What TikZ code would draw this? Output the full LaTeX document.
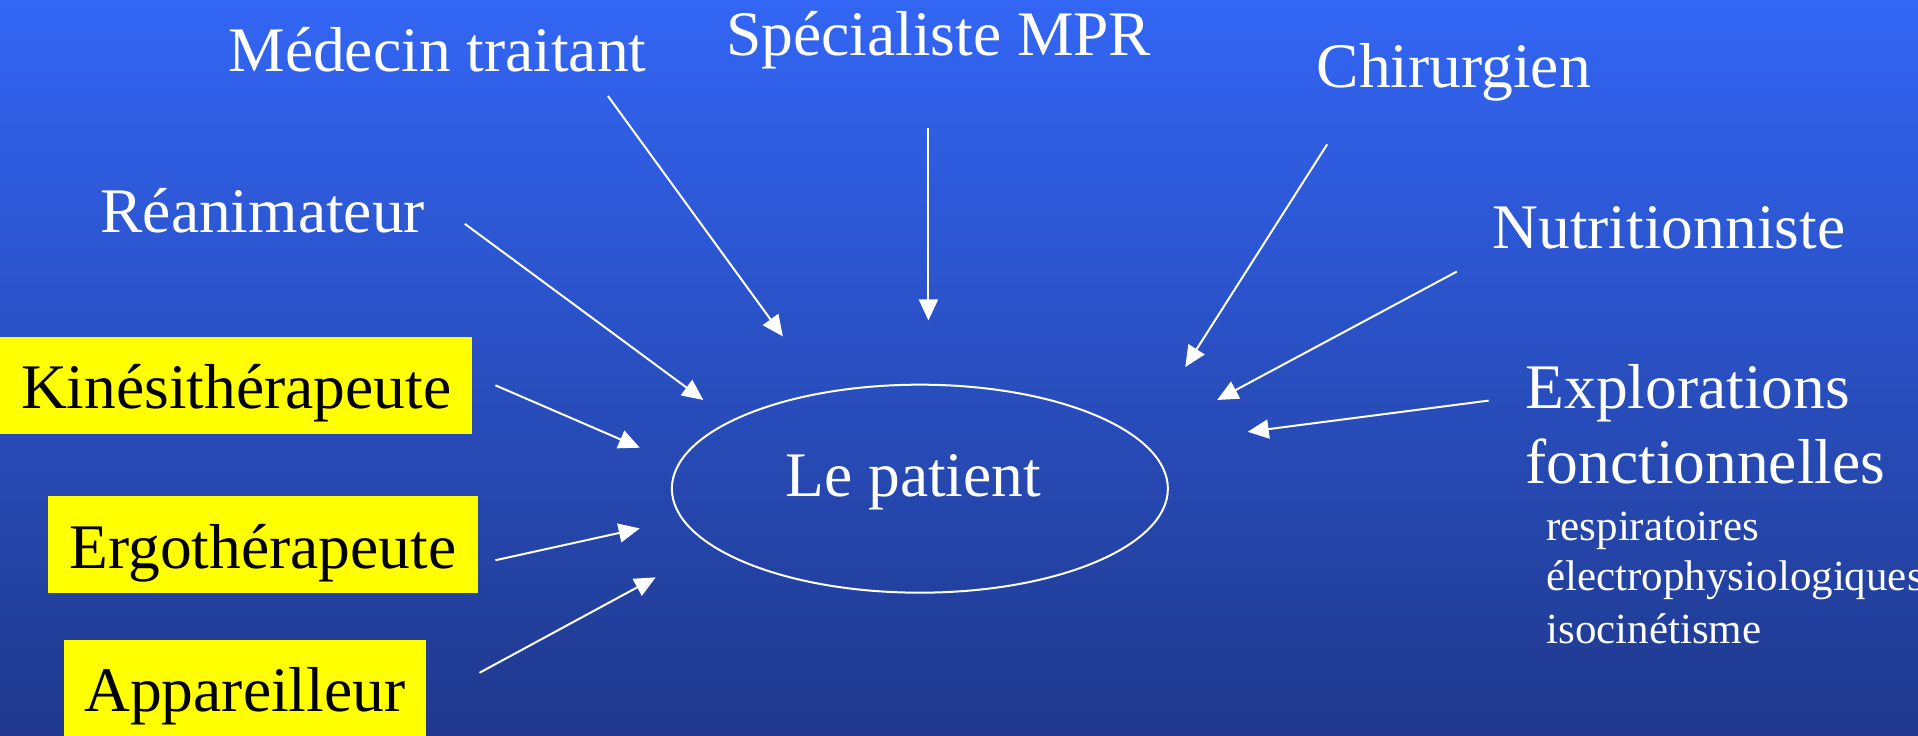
\documentclass[tikz,border=0pt]{standalone}
\usepackage{fontspec}
\setmainfont{Liberation Serif}
\usetikzlibrary{arrows.meta,shapes.geometric}
\definecolor{bgtop}{RGB}{51,102,245}
\definecolor{bgbot}{RGB}{31,56,140}
\definecolor{boxyellow}{RGB}{255,255,0}
\begin{document}
\begin{tikzpicture}[x=1.2232pt,y=-1.2232pt,
  big/.style={font=\fontsize{63.5}{74}\selectfont, text=white, inner sep=0pt, anchor=base west},
  small/.style={font=\fontsize{43}{50}\selectfont, text=white, inner sep=0pt, anchor=base west},
  ybox/.style={fill=boxyellow, text=black, font=\fontsize{63.5}{74}\selectfont, inner sep=0pt,
    text height=72pt, text depth=25pt, anchor=north west, align=center},
  conn/.style={draw=white, line width=2pt, -{Triangle[length=21pt,width=19pt]}},
  patient/.style={ellipse, draw=white, line width=2pt, minimum width=496pt, minimum height=208pt, inner sep=0pt}
]
\useasboundingbox (0,0) rectangle (1568,600.9);
\shade[top color=bgtop, bottom color=bgbot] (0,0) rectangle (1568,600.9);

% central node
\node[patient] (pat) at (752,399.5) {};
\node[big] (patlbl) at (642,406) {Le patient};

% text nodes
\node[big] (med) at (186.7,58.6) {Médecin traitant};
\node[big] (spec) at (593.5,45) {Spécialiste MPR};
\node[big] (chir) at (1076.4,71.4) {Chirurgien};
\node[big] (rea) at (82,190) {Réanimateur};
\node[big] (nut) at (1220,203) {Nutritionniste};
\node[big] (exp1) at (1247,334) {Explorations};
\node[big] (exp2) at (1247,395) {fonctionnelles};
\node[small] (sub1) at (1264,441.5) {respiratoires};
\node[small] (sub2) at (1264,483) {électrophysiologiques};
\node[small] (sub3) at (1264,526) {isocinétisme};

% yellow boxes
\node[ybox, minimum width=472pt] (kine) at (0,275) {Kinésithérapeute};
\node[ybox, minimum width=430pt] (ergo) at (39,405.5) {Ergothérapeute};
\node[ybox, minimum width=362pt] (app) at (52,523) {Appareilleur};

% connector end points
\coordinate (medS) at (497,78.5);   \coordinate (medE) at (640,275);
\coordinate (specS) at (759,105);   \coordinate (specE) at (759,262);
\coordinate (chirS) at (1085,118);  \coordinate (chirE) at (969,300);
\coordinate (reaS) at (380,183);    \coordinate (reaE) at (575,327);
\coordinate (nutS) at (1191,222);   \coordinate (nutE) at (995,327);
\coordinate (expS) at (1217,327.5); \coordinate (expE) at (1020,353);
\coordinate (kineS) at (405,315);   \coordinate (kineE) at (523,366);
\coordinate (ergoS) at (405,458);   \coordinate (ergoE) at (523,432);
\coordinate (appS) at (392,550);    \coordinate (appE) at (536,472);

\draw[conn] (medS) -- (medE);
\draw[conn] (specS) -- (specE);
\draw[conn] (chirS) -- (chirE);
\draw[conn] (reaS) -- (reaE);
\draw[conn] (nutS) -- (nutE);
\draw[conn] (expS) -- (expE);
\draw[conn] (kineS) -- (kineE);
\draw[conn] (ergoS) -- (ergoE);
\draw[conn] (appS) -- (appE);
\end{tikzpicture}
\end{document}
